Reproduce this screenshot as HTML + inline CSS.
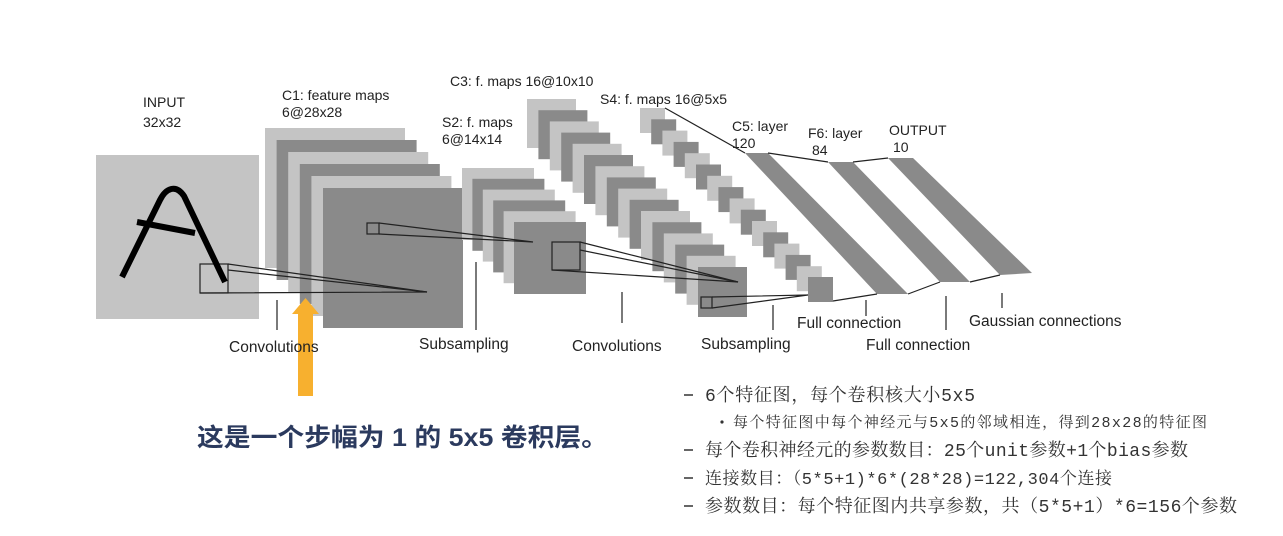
<!DOCTYPE html>
<html><head><meta charset="utf-8">
<style>
html,body{margin:0;padding:0;background:#fff;}
svg{display:block;}
.t{font-family:"Liberation Sans",sans-serif;font-size:14px;fill:#222;}
.b{font-family:"Liberation Sans",sans-serif;font-size:15.5px;fill:#222;}
.cn{font-family:"Liberation Mono","Noto Serif CJK SC",monospace;font-size:18px;fill:#333;}
.cs{font-family:"Liberation Mono","Noto Serif CJK SC",monospace;font-size:15px;fill:#333;}
</style></head>
<body>
<svg width="1283" height="536" viewBox="0 0 1283 536" xmlns="http://www.w3.org/2000/svg">
<rect width="1283" height="536" fill="#fff"/>
<rect x="96" y="155" width="163" height="164" fill="#c4c4c4"/>
<rect x="265" y="128" width="140" height="140" fill="#c4c4c4"/>
<rect x="276.6" y="140" width="140" height="140" fill="#8a8a8a"/>
<rect x="288.2" y="152" width="140" height="140" fill="#c4c4c4"/>
<rect x="299.8" y="164" width="140" height="140" fill="#8a8a8a"/>
<rect x="311.4" y="176" width="140" height="140" fill="#c4c4c4"/>
<rect x="323" y="188" width="140" height="140" fill="#8a8a8a"/>
<rect x="462" y="168" width="72" height="72" fill="#c4c4c4"/>
<rect x="472.4" y="178.8" width="72" height="72" fill="#8a8a8a"/>
<rect x="482.8" y="189.6" width="72" height="72" fill="#c4c4c4"/>
<rect x="493.2" y="200.4" width="72" height="72" fill="#8a8a8a"/>
<rect x="503.6" y="211.2" width="72" height="72" fill="#c4c4c4"/>
<rect x="514" y="222" width="72" height="72" fill="#8a8a8a"/>
<g>
<rect x="527" y="99" width="49" height="49" fill="#c4c4c4"/>
<rect x="538.4" y="110.2" width="49" height="49" fill="#8a8a8a"/>
<rect x="549.8" y="121.4" width="49" height="49" fill="#c4c4c4"/>
<rect x="561.2" y="132.6" width="49" height="49" fill="#8a8a8a"/>
<rect x="572.6" y="143.8" width="49" height="49" fill="#c4c4c4"/>
<rect x="584" y="155" width="49" height="49" fill="#8a8a8a"/>
<rect x="595.4" y="166.2" width="49" height="49" fill="#c4c4c4"/>
<rect x="606.8" y="177.4" width="49" height="49" fill="#8a8a8a"/>
<rect x="618.2" y="188.6" width="49" height="49" fill="#c4c4c4"/>
<rect x="629.6" y="199.8" width="49" height="49" fill="#8a8a8a"/>
<rect x="641" y="211" width="49" height="49" fill="#c4c4c4"/>
<rect x="652.4" y="222.2" width="49" height="49" fill="#8a8a8a"/>
<rect x="663.8" y="233.4" width="49" height="49" fill="#c4c4c4"/>
<rect x="675.2" y="244.6" width="49" height="49" fill="#8a8a8a"/>
<rect x="686.6" y="255.8" width="49" height="49" fill="#c4c4c4"/>
<rect x="698" y="267" width="49" height="50" fill="#8a8a8a"/>
</g>
<g>
<rect x="640" y="108" width="25" height="25" fill="#c4c4c4"/>
<rect x="651.2" y="119.3" width="25" height="25" fill="#8a8a8a"/>
<rect x="662.4" y="130.6" width="25" height="25" fill="#c4c4c4"/>
<rect x="673.6" y="141.9" width="25" height="25" fill="#8a8a8a"/>
<rect x="684.8" y="153.2" width="25" height="25" fill="#c4c4c4"/>
<rect x="696" y="164.5" width="25" height="25" fill="#8a8a8a"/>
<rect x="707.2" y="175.8" width="25" height="25" fill="#c4c4c4"/>
<rect x="718.4" y="187.1" width="25" height="25" fill="#8a8a8a"/>
<rect x="729.6" y="198.4" width="25" height="25" fill="#c4c4c4"/>
<rect x="740.8" y="209.7" width="25" height="25" fill="#8a8a8a"/>
<rect x="752" y="221" width="25" height="25" fill="#c4c4c4"/>
<rect x="763.2" y="232.3" width="25" height="25" fill="#8a8a8a"/>
<rect x="774.4" y="243.6" width="25" height="25" fill="#c4c4c4"/>
<rect x="785.6" y="254.9" width="25" height="25" fill="#8a8a8a"/>
<rect x="796.8" y="266.2" width="25" height="25" fill="#c4c4c4"/>
<rect x="808" y="277" width="25" height="25" fill="#8a8a8a"/>
</g>
<polygon points="745,153 768,153 908,294 877,294" fill="#8a8a8a"/>
<polygon points="828,162 853,162 970,282 940,282" fill="#8a8a8a"/>
<polygon points="888,158 913,158 1032,273 1000,275" fill="#8a8a8a"/>
<g stroke="#222" stroke-width="1.2" fill="none">
<line x1="665" y1="108" x2="745" y2="153"/>
<polyline points="768,153 828,162"/>
<polyline points="853,162 888,158"/>
<polyline points="833,301 877,294"/>
<polyline points="908,294 940,282"/>
<polyline points="970,282 1000,275"/>
<rect x="200" y="264" width="28" height="29"/>
<polyline points="228,264 427,292 200,293"/>
<line x1="228" y1="270" x2="427" y2="292"/>
<rect x="367" y="223" width="12" height="11"/>
<polyline points="379,223 533,242 379,234"/>
<rect x="552" y="242" width="28" height="28"/>
<polyline points="580,242 738,282 552,270"/>
<line x1="580" y1="250" x2="738" y2="282"/>
<rect x="701" y="297" width="11" height="11"/>
<polyline points="712,297 808,295 712,308"/>
<line x1="277" y1="300" x2="277" y2="330"/>
<line x1="476" y1="262" x2="476" y2="330"/>
<line x1="622" y1="292" x2="622" y2="323"/>
<line x1="773" y1="305" x2="773" y2="330"/>
<line x1="866" y1="300" x2="866" y2="316"/>
<line x1="946" y1="296" x2="946" y2="330"/>
<line x1="1002" y1="293" x2="1002" y2="308"/>
</g>
<g stroke="#000" stroke-width="6" fill="none">
<path d="M122,277 L160,200 C166,188 176,184 184,196 L225,282"/>
<line x1="137" y1="222" x2="195" y2="233"/>
</g>
<rect x="298" y="313" width="15" height="83" fill="#f7b02f"/>
<polygon points="292,314 305.5,298 319,314" fill="#f7b02f"/>
<text class="t" x="143" y="107">INPUT</text>
<text class="t" x="143" y="127">32x32</text>
<text class="t" x="282" y="100">C1: feature maps</text>
<text class="t" x="282" y="117">6@28x28</text>
<text class="t" x="442" y="127">S2: f. maps</text>
<text class="t" x="442" y="144">6@14x14</text>
<text class="t" x="450" y="86">C3: f. maps 16@10x10</text>
<text class="t" x="600" y="104">S4: f. maps 16@5x5</text>
<text class="t" x="732" y="131">C5: layer</text>
<text class="t" x="732" y="148">120</text>
<text class="t" x="808" y="138">F6: layer</text>
<text class="t" x="812" y="155">84</text>
<text class="t" x="889" y="135">OUTPUT</text>
<text class="t" x="893" y="152">10</text>
<text class="b" x="229" y="352">Convolutions</text>
<text class="b" x="419" y="349">Subsampling</text>
<text class="b" x="572" y="351">Convolutions</text>
<text class="b" x="701" y="349">Subsampling</text>
<text class="b" x="797" y="328">Full connection</text>
<text class="b" x="866" y="350">Full connection</text>
<text class="b" x="969" y="326">Gaussian connections</text>
<text x="197" y="446" textLength="411" lengthAdjust="spacingAndGlyphs" style="font-family:'Liberation Sans','Noto Sans CJK SC',sans-serif;font-size:25px;font-weight:bold;fill:#2b3a5e">这是一个步幅为 1 的 5x5 卷积层。</text>
<g stroke="#333" stroke-width="1.5">
<line x1="684" y1="395" x2="693" y2="395"/>
<line x1="684" y1="450" x2="693" y2="450"/>
<line x1="684" y1="478" x2="693" y2="478"/>
<line x1="684" y1="506" x2="693" y2="506"/>
</g>
<circle cx="722" cy="422" r="1.6" fill="#333"/>
<text class="cn" x="705" y="401" textLength="270" lengthAdjust="spacing">6个特征图，每个卷积核大小5x5</text>
<text class="cs" x="733" y="427" textLength="474" lengthAdjust="spacing">每个特征图中每个神经元与5x5的邻域相连，得到28x28的特征图</text>
<text class="cn" x="705" y="456" textLength="483" lengthAdjust="spacing">每个卷积神经元的参数数目：25个unit参数+1个bias参数</text>
<text class="cn" x="705" y="484" textLength="407" lengthAdjust="spacing" style="font-size:17px">连接数目：（5*5+1)*6*(28*28)=122,304个连接</text>
<text class="cn" x="705" y="512" textLength="532" lengthAdjust="spacing">参数数目：每个特征图内共享参数，共（5*5+1）*6=156个参数</text>
</svg>
</body></html>
